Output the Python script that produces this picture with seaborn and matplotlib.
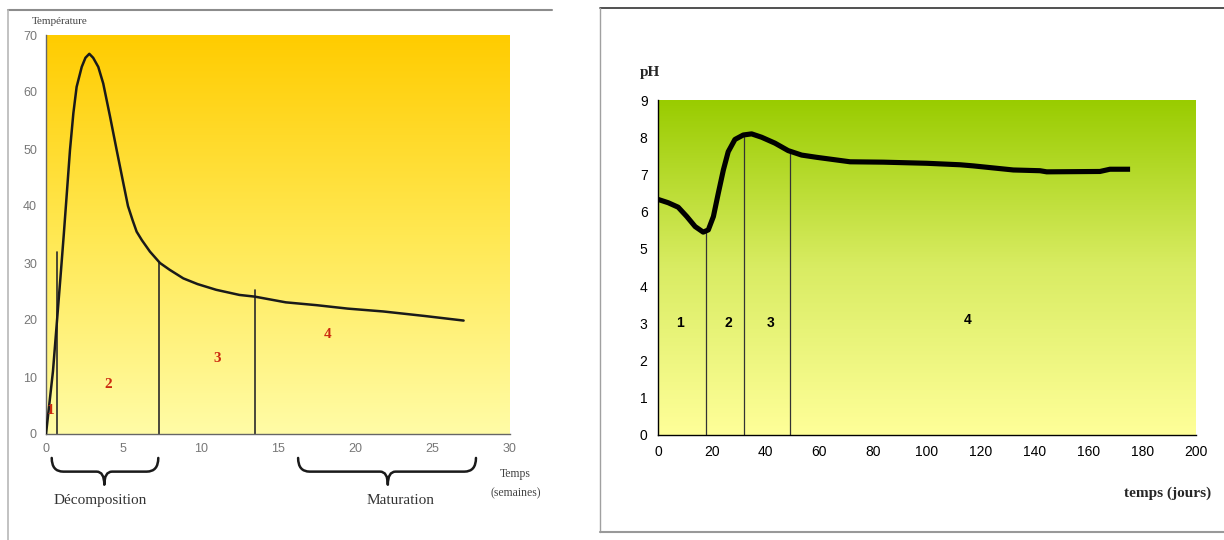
import numpy as np
import pandas as pd
import matplotlib
matplotlib.use("Agg")
import matplotlib.pyplot as plt
from matplotlib.colors import LinearSegmentedColormap
from matplotlib.path import Path
from matplotlib.patches import PathPatch
import seaborn as sns

# ---- data: temperature (left) ----
temp_weeks = [0, 0.45, 0.7, 0.95, 1.15, 1.34, 1.55, 1.77, 1.98, 2.31, 2.55, 2.8, 3.05, 3.38, 3.7,
              4.14, 4.57, 5.0, 5.3, 5.6, 5.86, 6.2, 6.72, 7.37, 8.0, 8.88, 9.8, 11.0, 12.5, 13.5,
              15.5, 17.5, 19.5, 21.8, 24.5, 27.0]
temp_values = [0, 11, 19.5, 28, 35, 42, 49.8, 56.3, 60.9, 64.4, 66, 66.7, 66, 64.4, 61.5,
               55.7, 49.8, 44, 40, 37.5, 35.5, 34, 32, 30, 28.8, 27.3, 26.3, 25.3, 24.4, 24.1,
               23.1, 22.6, 22, 21.5, 20.7, 19.9]
temp_phase_x = [0.7, 7.3, 13.5]
temp_phase_top = [32, 30, 25.3]
temp_phase_labels = ["1", "2", "3", "4"]
temp_phase_label_x = [0.3, 4.0, 11.1, 18.2]
temp_phase_label_y = [4.2, 8.6, 13.3, 17.5]
temp_xticks = [0, 5, 10, 15, 20, 25, 30]
temp_yticks = [0, 10, 20, 30, 40, 50, 60, 70]
brace_spans = [(0.37, 7.26), (16.3, 27.8)]
brace_tips = [3.77, 22.1]
brace_labels = ["Décomposition", "Maturation"]
brace_label_x = [3.5, 22.9]

# ---- data: pH (right) ----
ph_days = [0, 3.8, 7.5, 10.7, 13.8, 16.8, 18.7, 20.6, 22.4, 24.3, 26.1, 28.6, 31.7, 34.8, 38.5,
           43.5, 48.4, 53.4, 59, 71.4, 83.8, 99.9, 112.3, 117.2, 132.1, 142, 144.5, 164.3, 168, 175.5]
ph_values = [6.33, 6.24, 6.12, 5.87, 5.6, 5.45, 5.51, 5.87, 6.49, 7.12, 7.61, 7.94, 8.06, 8.09, 8.0,
             7.84, 7.64, 7.52, 7.46, 7.34, 7.33, 7.30, 7.26, 7.23, 7.12, 7.10, 7.07, 7.08, 7.14, 7.14]
ph_phase_x = [18, 32, 49]
ph_phase_top = [5.45, 8.06, 7.62]
ph_phase_labels = ["1", "2", "3", "4"]
ph_phase_label_x = [8.2, 26, 42, 115]
ph_phase_label_y = [3, 3, 3, 3.09]
ph_xticks = list(range(0, 201, 20))
ph_yticks = list(range(0, 10))

sns.set_style("white")
plt.rcParams["font.family"] = ["Liberation Serif", "DejaVu Serif"]

fig = plt.figure(figsize=(12.24, 5.40), dpi=100)
fig.patch.set_facecolor("white")

# frames
fig.add_artist(plt.Line2D([8/1224, 552/1224], [1-10/540, 1-10/540], color="#8c8c8c", lw=1.5))
fig.add_artist(plt.Line2D([8/1224, 8/1224], [1-10/540, 0], color="#b8b8b8", lw=1.2))
fig.add_artist(plt.Line2D([600/1224, 1224/1224], [1-8/540, 1-8/540], color="#333333", lw=1.2))
fig.add_artist(plt.Line2D([600/1224, 600/1224], [1-8/540, 1-532/540], color="#a0a0a0", lw=1.0))
fig.add_artist(plt.Line2D([600/1224, 1224/1224], [1-532/540, 1-532/540], color="#999999", lw=1.5))

grad = np.linspace(0, 1, 256).reshape(-1, 1)

# ---------- left panel ----------
axL = fig.add_axes([46/1224, 1-434/540, (510-46)/1224, (434-35)/540])
cmapL = LinearSegmentedColormap.from_list("gold", ["#FFFCA6", "#FFE852", "#FFCC00"])
axL.imshow(grad, cmap=cmapL, origin="lower", aspect="auto",
           extent=[0, 30, 0, 70], zorder=0)
dfT = pd.DataFrame({"t": temp_weeks, "v": temp_values})
sns.lineplot(data=dfT, x="t", y="v", ax=axL, color="#1a1a1a", lw=1.8, zorder=3)
axL.lines[-1].set_solid_joinstyle("round")
for x, top in zip(temp_phase_x, temp_phase_top):
    axL.plot([x, x], [0, top], color="#2a2a2a", lw=1.2, zorder=2)
for lab, x, y in zip(temp_phase_labels, temp_phase_label_x, temp_phase_label_y):
    axL.text(x, y, lab, color="#cc2a10", fontsize=11, fontweight="bold", ha="center", va="center", zorder=4)
axL.set_xlim(0, 30)
axL.set_ylim(0, 70)
axL.set_xticks(temp_xticks)
axL.set_yticks(temp_yticks)
axL.tick_params(axis="both", labelsize=9, colors="#666666", direction="out", length=3, width=0.8,
                labelcolor="#777777")
for lab in axL.get_xticklabels() + axL.get_yticklabels():
    lab.set_family("Liberation Sans")
axL.set_xlabel("")
axL.set_ylabel("")
for s in ["top", "right"]:
    axL.spines[s].set_visible(False)
for s in ["left", "bottom"]:
    axL.spines[s].set_color("#666666")
    axL.spines[s].set_linewidth(1.0)
axL.text(-0.9, 71.6, "Température", fontsize=8, color="#444444", ha="left", va="bottom")
axL.text(30.35, -6.0, "Temps\n(semaines)", fontsize=8.5, color="#444444", ha="center", va="top",
         linespacing=1.75)


def brace(ax, x0, x1, xtip, ytop, yh, ytip):
    d = 0.75
    dt = 0.5
    verts = [(x0, ytop), (x0, yh), (x0 + d, yh),
             (xtip - dt, yh),
             (xtip, yh), (xtip, ytip),
             (xtip, yh), (xtip + dt, yh),
             (x1 - d, yh),
             (x1, yh), (x1, ytop)]
    codes = [Path.MOVETO, Path.CURVE3, Path.CURVE3,
             Path.LINETO,
             Path.CURVE3, Path.CURVE3,
             Path.CURVE3, Path.CURVE3,
             Path.LINETO,
             Path.CURVE3, Path.CURVE3]
    patch = PathPatch(Path(verts, codes), fill=False, edgecolor="#1a1a1a", lw=1.8,
                      transform=ax.transData, clip_on=False, capstyle="round", joinstyle="round")
    ax.add_patch(patch)


for (x0, x1), xt, lab, lx in zip(brace_spans, brace_tips, brace_labels, brace_label_x):
    brace(axL, x0, x1, xt, -4.2, -6.6, -8.9)
    axL.text(lx, -11.7, lab, fontsize=11, color="#333333", ha="center", va="center")

# ---------- right panel ----------
axR = fig.add_axes([658/1224, 1-435/540, (1196-658)/1224, (435-100)/540])
cmapR = LinearSegmentedColormap.from_list("green", ["#FFFF99", "#D9EC63", "#99CC00"])
axR.imshow(grad, cmap=cmapR, origin="lower", aspect="auto",
           extent=[0, 200, 0, 9], zorder=0)
dfP = pd.DataFrame({"d": ph_days, "p": ph_values})
sns.lineplot(data=dfP, x="d", y="p", ax=axR, color="black", lw=3.7, zorder=3)
axR.lines[-1].set_solid_joinstyle("round")
axR.lines[-1].set_solid_capstyle("butt")
for x, top in zip(ph_phase_x, ph_phase_top):
    axR.plot([x, x], [0, top], color="#333333", lw=0.9, zorder=2)
for lab, x, y in zip(ph_phase_labels, ph_phase_label_x, ph_phase_label_y):
    axR.text(x, y, lab, color="black", fontsize=10, fontweight="bold", ha="center", va="center",
             family="Liberation Sans", zorder=4)
axR.set_xlim(0, 200)
axR.set_ylim(0, 9)
axR.set_xticks(ph_xticks)
axR.set_yticks(ph_yticks)
axR.tick_params(axis="both", labelsize=10, colors="black", direction="out", length=4, width=0.8)
for lab in axR.get_xticklabels() + axR.get_yticklabels():
    lab.set_family("Liberation Sans")
axR.set_xlabel("")
axR.set_ylabel("")
for s in ["top", "right"]:
    axR.spines[s].set_visible(False)
for s in ["left", "bottom"]:
    axR.spines[s].set_color("black")
    axR.spines[s].set_linewidth(1.0)
axR.text(-3, 9.73, "pH", fontsize=11, fontweight="bold", ha="center", va="center")
axR.text(205.5, -1.56, "temps (jours)", fontsize=11, fontweight="bold", ha="right", va="center")

fig.savefig("out.png", dpi=100, facecolor="white")
